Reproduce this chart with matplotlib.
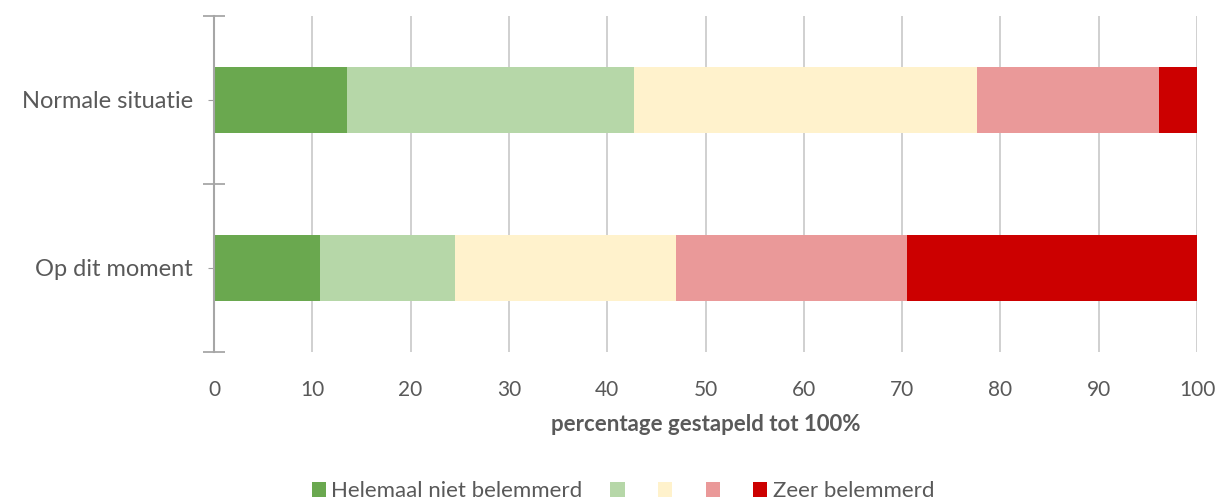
import matplotlib
matplotlib.use('Agg')
import matplotlib.pyplot as plt
from matplotlib.patches import Patch
from matplotlib.ticker import FixedLocator

# data
categories = ['Op dit moment', 'Normale situatie']
series_labels = ['Helemaal niet belemmerd', '', '', '', 'Zeer belemmerd']
colors = ['#6AA84F', '#B6D7A8', '#FFF2CC', '#EA9999', '#CC0000']
op_dit_moment = [10.8, 13.7, 22.5, 23.5, 29.5]
normale_situatie = [13.5, 29.2, 34.9, 18.5, 3.9]
xticks = [0, 10, 20, 30, 40, 50, 60, 70, 80, 90, 100]

plt.rcParams['font.family'] = ['Lato', 'DejaVu Sans']
text_color = '#595959'

fig = plt.figure(figsize=(12.26, 5.04), dpi=100)
ax = fig.add_axes([214 / 1226, 1 - 352 / 504, (1197 - 214) / 1226, (352 - 16) / 504])

values = [op_dit_moment, normale_situatie]
ypos = list(range(len(categories)))
lefts = [0.0] * len(categories)
for i in range(len(series_labels)):
    widths = [v[i] for v in values]
    ax.barh(ypos, widths, left=lefts, height=0.39, color=colors[i], zorder=3)
    lefts = [l + w for l, w in zip(lefts, widths)]

ax.set_xlim(0, 100)
ax.set_ylim(-0.5, 1.5)
ax.set_xticks(xticks)
ax.set_xticklabels([str(t) for t in xticks], fontsize=15, color=text_color)
ax.tick_params(axis='x', length=0, pad=20)
ax.grid(axis='x', color='#C8C8C8', linewidth=1.2, zorder=0)

ax.set_yticks(ypos)
ax.set_yticklabels(categories, fontsize=17, color=text_color)
ax.yaxis.set_minor_locator(FixedLocator([-0.5, 0.5, 1.5]))
ax.tick_params(axis='y', which='major', length=4, color='#A0A0A0', pad=11, direction='out')
ax.tick_params(axis='y', which='minor', length=16, color='#A0A0A0', direction='inout', width=1.2)

for s in ['top', 'right', 'bottom']:
    ax.spines[s].set_visible(False)
ax.spines['left'].set_color('#A6A6A6')
ax.spines['left'].set_linewidth(1.5)
ax.spines['left'].set_zorder(4)

ax.set_xlabel('percentage gestapeld tot 100%', fontsize=16, fontweight='bold', color=text_color, labelpad=10)

handles = [Patch(facecolor=c) for c in colors]
fig.legend(handles, series_labels, loc='center', bbox_to_anchor=(623 / 1226, 1 - 491 / 504),
           ncol=5, frameon=False, fontsize=16, handlelength=0.64, handleheight=0.64,
           handletextpad=0.25, columnspacing=1.25, labelcolor=text_color, borderpad=0)

fig.savefig('out.png', dpi=100)
